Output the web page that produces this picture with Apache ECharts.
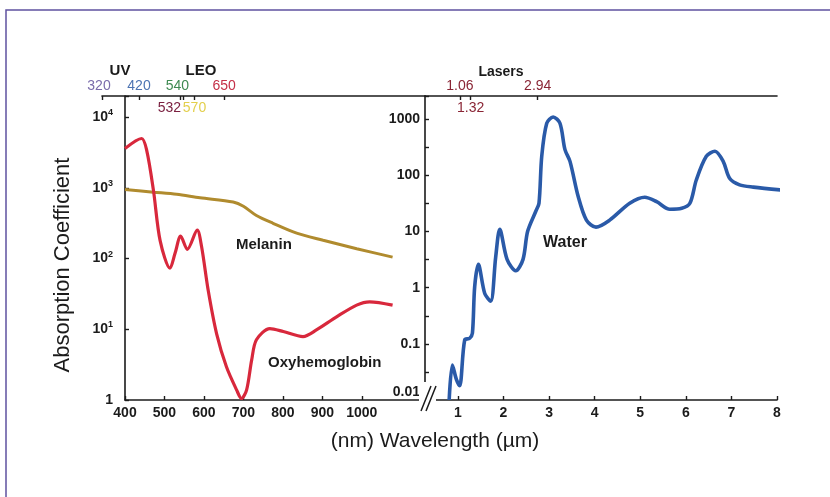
<!DOCTYPE html>
<html>
<head>
<meta charset="utf-8">
<script src="https://cdn.jsdelivr.net/npm/echarts@6/dist/echarts.min.js"></script>
<style>
  html, body { margin: 0; padding: 0; background: #fff; }
  #chart { width: 830px; height: 497px; }
</style>
</head>
<body>
<div id="chart"></div>
<script>
// values
const oxyNm  = [400, 442, 455, 472, 489, 514, 527, 541, 558, 583, 594, 611, 632, 657, 683, 695, 708, 721, 733, 767, 801, 851, 885, 936, 987, 1020, 1078];
const oxyAbs = [3600, 5000, 3400, 930, 180, 73, 120, 208, 135, 252, 148, 35, 8.7, 2.95, 1.38, 1.05, 1.38, 3.7, 7.1, 10.2, 9.3, 7.9, 9.8, 15, 22, 24.5, 22];

const melNm  = [400, 472, 531, 590, 674, 700, 733, 775, 835, 902, 987, 1078];
const melAbs = [950, 871, 813, 724, 631, 550, 407, 316, 229, 182, 138, 105];

const waterUm  = [0.81, 0.88, 0.97, 1.04, 1.15, 1.26, 1.32, 1.37, 1.45, 1.59, 1.72, 1.83, 1.92, 2.08, 2.27, 2.43, 2.53, 2.71, 2.78, 2.84, 2.95, 3.09, 3.24, 3.35, 3.46, 3.64, 3.82, 4.03, 4.33, 4.77, 5.10, 5.36, 5.65, 5.91, 6.09, 6.23, 6.45, 6.64, 6.82, 6.96, 7.18, 7.48, 8.20];
const waterAbs = [0.01, 0.042, 0.023, 0.018, 0.117, 0.126, 0.155, 1.05, 2.6, 0.79, 0.575, 3.5, 11, 3.2, 2.0, 3.2, 10, 23, 32, 219, 850, 1100, 850, 288, 178, 42, 16, 12, 16, 32, 41, 34, 25, 26, 32, 83, 219, 270, 178, 89, 68, 62, 54];

const nmTicks = [400, 500, 600, 700, 800, 900, 1000];
const umTicks = [1, 2, 3, 4, 5, 6, 7, 8];
const halfDecades = [0.0316, 0.316, 3.16, 31.6, 316];
const leoTicks = [320, 420, 532, 540, 570, 650];
const leoAbove = [320, 420, 540, 650];
const leoBelowA = [532];
const leoBelowB = [570];
const leoColors = { 320: '#7a6cab', 420: '#4d74b2', 532: '#7b2141', 540: '#3f8a52', 570: '#e3cf4c', 650: '#c53048' };
const laserTicks = [1.06, 1.32, 2.94];
const laserAbove = [1.06, 2.94];
const laserBelow = [1.32];

const zip = (a, b) => a.map((v, i) => [v, b[i]]);

const chart = echarts.init(document.getElementById('chart'));
const fam = '"Liberation Sans", Arial, sans-serif';
const ink = '#1b1b1b';
const axisLine = { show: true, onZero: false, lineStyle: { color: ink, width: 1.6 } };
const tickStyle = { color: ink, width: 1.4 };
const tickText = { color: ink, fontSize: 14, fontWeight: 'bold', fontFamily: fam };

// label nudges so the crowded 532 / 540 sit left of their ticks
const leoShift = { 532: 22, 540: 12, 320: 6 };
const leoRich = {};
Object.keys(leoColors).forEach(k => {
  leoRich['c' + k] = { color: leoColors[k], fontSize: 14, fontFamily: fam, padding: [0, leoShift[k] || 0, 0, 0] };
});
const leoFmt = v => '{c' + v + '|' + v + '}';
const laserRich = { m: { color: '#8a2535', fontSize: 14, fontFamily: fam } };

const isPow10 = v => Math.abs(Math.log10(v) - Math.round(Math.log10(v))) < 1e-6;

const topAxis = (grid, min, max, extra) => Object.assign({
  gridIndex: grid, type: 'value', min: min, max: max, position: 'top',
  axisLine: { show: false }, axisTick: { show: false }, splitLine: { show: false }
}, extra);

const option = {
  animation: false,
  backgroundColor: '#fff',
  grid: [
    { left: 125, top: 96, width: 296, height: 304 },
    { left: 425, top: 96, width: 352, height: 304 },
    { left: 102, top: 96, width: 323, height: 304 }
  ],
  xAxis: [
    {
      gridIndex: 0, type: 'value', min: 400, max: 1150, position: 'bottom',
      axisLine: axisLine,
      axisTick: { inside: true, length: 4, customValues: nmTicks, lineStyle: tickStyle },
      axisLabel: Object.assign({ customValues: nmTicks, margin: 6, formatter: v => String(v) }, tickText),
      splitLine: { show: false }
    },
    {
      gridIndex: 1, type: 'value', min: 0.28, max: 8, position: 'bottom',
      axisLine: axisLine,
      axisTick: { inside: true, length: 4, customValues: umTicks, lineStyle: tickStyle },
      axisLabel: Object.assign({ customValues: umTicks, margin: 6, formatter: v => String(v) }, tickText),
      splitLine: { show: false }
    },
    topAxis(2, 320, 1193, {
      axisLine: axisLine,
      axisTick: { show: true, inside: true, length: 4, customValues: leoTicks, lineStyle: tickStyle },
      axisLabel: { customValues: leoAbove, margin: 3, formatter: leoFmt, rich: leoRich }
    }),
    topAxis(2, 320, 1193, {
      axisLabel: { inside: true, customValues: leoBelowA, margin: 5, formatter: leoFmt, rich: leoRich }
    }),
    topAxis(2, 320, 1193, {
      axisLabel: { inside: true, customValues: leoBelowB, margin: 5, formatter: leoFmt, rich: leoRich }
    }),
    topAxis(1, 0.217, 8.72, {
      axisLine: axisLine,
      axisTick: { show: true, inside: true, length: 4, customValues: laserTicks, lineStyle: tickStyle },
      axisLabel: { customValues: laserAbove, margin: 3, formatter: v => '{m|' + v.toFixed(2) + '}', rich: laserRich }
    }),
    topAxis(1, 0.217, 8.72, {
      axisLabel: { inside: true, customValues: laserBelow, margin: 5, formatter: v => '{m|' + v.toFixed(2) + '}', rich: laserRich }
    })
  ],
  yAxis: [
    {
      gridIndex: 0, type: 'log', min: 1, max: 19950, position: 'left',
      axisLine: axisLine,
      axisTick: { inside: true, length: 4, lineStyle: tickStyle },
      axisLabel: {
        margin: 12,
        formatter: v => {
          if (!isPow10(v)) return '';
          const e = Math.round(Math.log10(v));
          return e === 0 ? '{b|1}' : '{b|10}{s|' + e + '}';
        },
        rich: {
          b: { color: ink, fontSize: 14, fontWeight: 'bold', fontFamily: fam, lineHeight: 18 },
          s: { color: ink, fontSize: 9, fontWeight: 'bold', fontFamily: fam, lineHeight: 18, verticalAlign: 'top' }
        }
      },
      splitLine: { show: false }
    },
    {
      gridIndex: 1, type: 'log', min: 0.01, max: 2600, position: 'left',
      axisLine: axisLine,
      axisTick: { inside: true, length: 4, lineStyle: tickStyle },
      axisLabel: {
        margin: 5,
        formatter: v => {
          if (!isPow10(v)) return '';
          return v === 0.01 ? '{lo|0.01}' : '{n|' + v + '}';
        },
        rich: {
          n: { color: ink, fontSize: 14, fontWeight: 'bold', fontFamily: fam },
          lo: { color: ink, fontSize: 14, fontWeight: 'bold', fontFamily: fam, padding: [0, 0, 15, 0] }
        }
      },
      splitLine: { show: false }
    },
    { gridIndex: 2, type: 'value', show: false, min: 0, max: 1 },
    {
      // half-decade ticks only
      gridIndex: 1, type: 'log', min: 0.01, max: 2600, position: 'left', offset: 0,
      axisLine: { show: false, onZero: false },
      axisTick: { inside: true, length: 4, customValues: halfDecades, lineStyle: tickStyle },
      axisLabel: { show: false },
      splitLine: { show: false }
    }
  ],
  series: [
    {
      name: 'Melanin', type: 'line', xAxisIndex: 0, yAxisIndex: 0,
      data: zip(melNm, melAbs), smooth: 0.3, showSymbol: false, symbol: 'none',
      lineStyle: { color: '#b08b2e', width: 3 },
      markPoint: {
        symbol: 'circle', symbolSize: 0,
        label: { show: true, position: 'inside', formatter: 'Melanin', color: ink, fontSize: 15, fontWeight: 'bold', fontFamily: fam },
        data: [{ coord: [752, 158] }]
      }
    },
    {
      name: 'Oxyhemoglobin', type: 'line', xAxisIndex: 0, yAxisIndex: 0,
      data: zip(oxyNm, oxyAbs), smooth: 0.3, showSymbol: false, symbol: 'none',
      lineStyle: { color: '#d8283c', width: 3.2 },
      markPoint: {
        symbol: 'circle', symbolSize: 0,
        label: { show: true, position: 'inside', formatter: 'Oxyhemoglobin', color: ink, fontSize: 15, fontWeight: 'bold', fontFamily: fam },
        data: [{ coord: [906, 3.3] }]
      }
    },
    {
      name: 'Water', type: 'line', xAxisIndex: 1, yAxisIndex: 1, clip: false,
      data: zip(waterUm, waterAbs), smooth: 0.3, showSymbol: false, symbol: 'none',
      lineStyle: { color: '#2a5aa8', width: 3.6 },
      markPoint: {
        symbol: 'circle', symbolSize: 0,
        label: { show: true, position: 'inside', formatter: 'Water', color: ink, fontSize: 16, fontWeight: 'bold', fontFamily: fam },
        data: [{ coord: [3.35, 6.3] }]
      }
    }
  ],
  graphic: [
    { type: 'rect', z: 100, silent: true, shape: { x: 6, y: 10, width: 900, height: 600 },
      style: { fill: 'none', stroke: '#5f52a0', lineWidth: 1.5 } },
    // axis break
    { type: 'rect', z: 100, shape: { x: 419, y: 382, width: 17, height: 24 }, style: { fill: '#fff' } },
    { type: 'line', z: 101, shape: { x1: 421, y1: 411, x2: 431, y2: 386 }, style: { stroke: ink, lineWidth: 1.5 } },
    { type: 'line', z: 101, shape: { x1: 426, y1: 411, x2: 436, y2: 386 }, style: { stroke: ink, lineWidth: 1.5 } },
    { type: 'text', z: 100, style: { text: 'UV', x: 120, y: 71, align: 'center', verticalAlign: 'middle', fill: ink, font: 'bold 15px ' + fam } },
    { type: 'text', z: 100, style: { text: 'LEO', x: 201, y: 71, align: 'center', verticalAlign: 'middle', fill: ink, font: 'bold 15px ' + fam } },
    { type: 'text', z: 100, style: { text: 'Lasers', x: 501, y: 72, align: 'center', verticalAlign: 'middle', fill: ink, font: 'bold 14px ' + fam } },
    { type: 'text', z: 100, style: { text: '(nm) Wavelength (µm)', x: 435, y: 441, align: 'center', verticalAlign: 'middle', fill: ink, font: '21px ' + fam } },
    { type: 'text', z: 100, x: 63, y: 265, rotation: Math.PI / 2,
      style: { text: 'Absorption Coefficient', x: 0, y: 0, align: 'center', verticalAlign: 'middle', fill: ink, font: '22px ' + fam } }
  ]
};

chart.setOption(option);
</script>
</body>
</html>
